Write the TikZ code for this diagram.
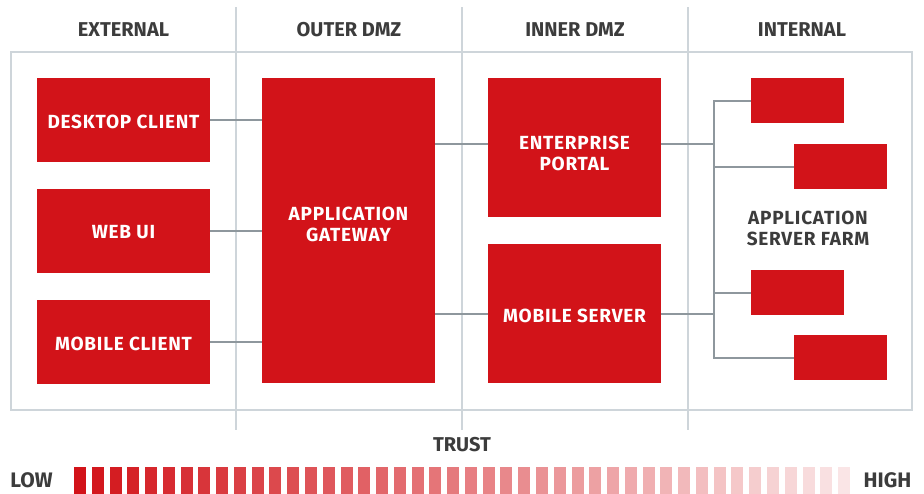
\documentclass[tikz,border=0pt]{standalone}
\usepackage{fontspec}
\newfontfamily\hfont{Fira Sans}
\newfontfamily\bfont{Fira Sans}[LetterSpace=4]
\definecolor{tred}{RGB}{210,19,25}
\definecolor{tgray}{RGB}{60,60,60}
\definecolor{fgray}{RGB}{206,213,218}
\definecolor{cgray}{RGB}{142,151,157}
\tikzset{
  box/.style={fill=tred, draw=none, inner sep=0pt},
  boxtext/.style={text=white, inner sep=0pt, align=center,
    font=\bfont\bfseries\fontsize{19}{21}\selectfont},
  conn/.style={draw=cgray, line width=2pt},
  frameline/.style={draw=fgray, line width=2pt},
  hdr/.style={text=tgray, inner sep=0pt, font=\hfont\bfseries\fontsize{20}{24}\selectfont},
  bighdr/.style={text=tgray, inner sep=0pt, font=\hfont\bfseries\fontsize{21}{24}\selectfont},
  farmlbl/.style={text=tgray, inner sep=0pt, align=center, font=\bfont\bfseries\fontsize{19}{21}\selectfont}
}
\begin{document}
\begin{tikzpicture}[x=1pt,y=-1pt]
\useasboundingbox (0,0) rectangle (924,493);
% lanes and frame
\draw[frameline] (11,52) rectangle (912,410);
\coordinate (l1t) at (236,7); \coordinate (l1b) at (236,430);
\coordinate (l2t) at (462,7); \coordinate (l2b) at (462,430);
\coordinate (l3t) at (688,7); \coordinate (l3b) at (688,430);
\draw[frameline] (l1t) -- (l1b);
\draw[frameline] (l2t) -- (l2b);
\draw[frameline] (l3t) -- (l3b);
% headers
\node[hdr] (hext) at (123.5,30) {EXTERNAL};
\node[hdr] (hout) at (349,30) {OUTER DMZ};
\node[hdr] (hinn) at (575,30) {INNER DMZ};
\node[hdr] (hint) at (802,30) {INTERNAL};
% boxes
\node[box, minimum width=173pt, minimum height=84pt,
  label={[boxtext, yshift=-2pt]center:DESKTOP CLIENT}] (desk) at (123.5,120) {};
\node[box, minimum width=173pt, minimum height=84pt,
  label={[boxtext, yshift=-1pt]center:WEB UI}] (web) at (123.5,231) {};
\node[box, minimum width=173pt, minimum height=84pt,
  label={[boxtext, yshift=-2pt]center:MOBILE CLIENT}] (mobc) at (123.5,342) {};
\node[box, minimum width=173pt, minimum height=305pt,
  label={[boxtext, yshift=6pt]center:APPLICATION\\GATEWAY}] (gw) at (348.5,230.5) {};
\node[box, minimum width=173pt, minimum height=139pt,
  label={[boxtext, yshift=-5.5pt]center:ENTERPRISE\\PORTAL}] (portal) at (574.5,147.5) {};
\node[box, minimum width=173pt, minimum height=139pt,
  label={[boxtext, yshift=-2.5pt]center:MOBILE SERVER}] (mobs) at (574.5,313.5) {};
\node[box, minimum width=93pt, minimum height=45pt] (f1) at (797.5,100.5) {};
\node[box, minimum width=93pt, minimum height=45pt] (f2) at (840.5,166.5) {};
\node[box, minimum width=93pt, minimum height=45pt] (f3) at (797.5,292.5) {};
\node[box, minimum width=93pt, minimum height=45pt] (f4) at (840.5,357.5) {};
\node[farmlbl] (farm) at (808,228.5) {APPLICATION\\SERVER FARM};
% connectors
\draw[conn] (desk.east) -- (desk.east -| gw.west);
\draw[conn] (web.east) -- (web.east -| gw.west);
\draw[conn] (mobc.east) -- (mobc.east -| gw.west);
\coordinate (pa) at (488,144);
\coordinate (ma) at (488,314);
\draw[conn] (pa -| gw.east) -- (pa);
\draw[conn] (ma -| gw.east) -- (ma);
\coordinate (bust) at (714,100.5);
\coordinate (busb) at (714,357.5);
\draw[conn] (pa -| portal.east) -- (pa -| bust);
\draw[conn] (ma -| mobs.east) -- (ma -| bust);
\draw[conn] (f1.west) -- (bust) -- (busb) -- (f4.west);
\draw[conn] (f2.west) -- (f2.west -| bust);
\draw[conn] (f3.west) -- (f3.west -| bust);
% trust scale
\node[hdr] (trust) at (462,445) {TRUST};
\node[bighdr] (low) at (31.5,480.5) {LOW};
\node[bighdr] (high) at (887.5,480.5) {HIGH};
\foreach \i in {0,...,43}{
  \pgfmathsetmacro\p{100-89*\i/43}
  \fill[tred!\p] ({74+17.77*\i},467) rectangle ({86+17.77*\i},494);
}
\end{tikzpicture}
\end{document}
